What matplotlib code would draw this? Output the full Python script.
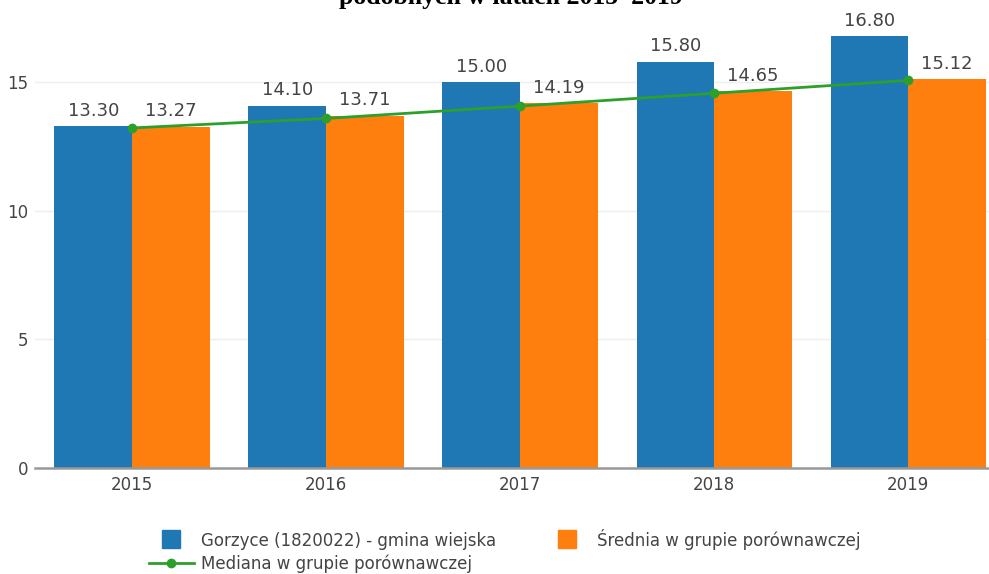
import numpy as np
import matplotlib.pyplot as plt
from matplotlib.lines import Line2D

years = ["2015", "2016", "2017", "2018", "2019"]
gmina = [13.30, 14.10, 15.00, 15.80, 16.80]
srednia = [13.27, 13.71, 14.19, 14.65, 15.12]
mediana = [13.23, 13.60, 14.08, 14.58, 15.08]

labels = ["Gorzyce (1820022) - gmina wiejska",
          "Średnia w grupie porównawczej",
          "Mediana w grupie porównawczej"]
title = "podobnych w latach 2015–2019"

blue = "#1f77b4"
orange = "#ff7f0e"
green = "#2ca02c"
txt = "#444444"

fig = plt.figure(figsize=(9.89, 5.74), dpi=100)
# axes run a little past the right edge, like the cropped screenshot
ax = fig.add_axes([0.0354, 0.1847, 0.981, 0.806])

x = np.arange(len(years))
w = 0.4
ax.bar(x - w / 2, gmina, w, color=blue, zorder=2)
ax.bar(x + w / 2, srednia, w, color=orange, zorder=2)
ax.plot(x, mediana, color=green, lw=2, marker="o", ms=6, zorder=3)

for xi, v in zip(x - w / 2, gmina):
    ax.text(xi, v + 0.25, f"{v:.2f}", ha="center", va="bottom", fontsize=13, color=txt, zorder=4)
for xi, v in zip(x + w / 2, srednia):
    ax.text(xi, v + 0.25, f"{v:.2f}", ha="center", va="bottom", fontsize=13, color=txt, zorder=4)

ax.set_xlim(-0.5, 4.5)
ax.set_ylim(0, 18.0)
ax.set_yticks([0, 5, 10, 15])
ax.set_xticks(x)
ax.set_xticklabels(years)
ax.grid(axis="y", color="#eeeeee", lw=1, zorder=0)
for s in ["top", "right", "left"]:
    ax.spines[s].set_visible(False)
ax.spines["bottom"].set_color("#999999")
ax.spines["bottom"].set_linewidth(1.8)
ax.tick_params(axis="x", length=0, pad=6, labelsize=12, labelcolor=txt)
ax.tick_params(axis="y", length=0, pad=5, labelsize=12, labelcolor=txt)

fig.text(0.517, 1 - 4 / 574, title, ha="center", va="baseline",
         fontsize=18.5, fontweight="bold", family="Liberation Serif")

handles = [Line2D([0], [0], color=blue, lw=0, marker="s", ms=13),
           Line2D([0], [0], color=green, lw=2, marker="o", ms=6),
           Line2D([0], [0], color=orange, lw=0, marker="s", ms=13)]
fig.legend(handles, [labels[0], labels[2], labels[1]], ncol=2,
           loc="upper left", bbox_to_anchor=(0.142, 0.093), frameon=False,
           fontsize=12, labelcolor=txt, handlelength=2.7, handleheight=1.0,
           columnspacing=2.9, handletextpad=0.45, labelspacing=0.3,
           borderpad=0)

fig.savefig("out.png", dpi=100)
